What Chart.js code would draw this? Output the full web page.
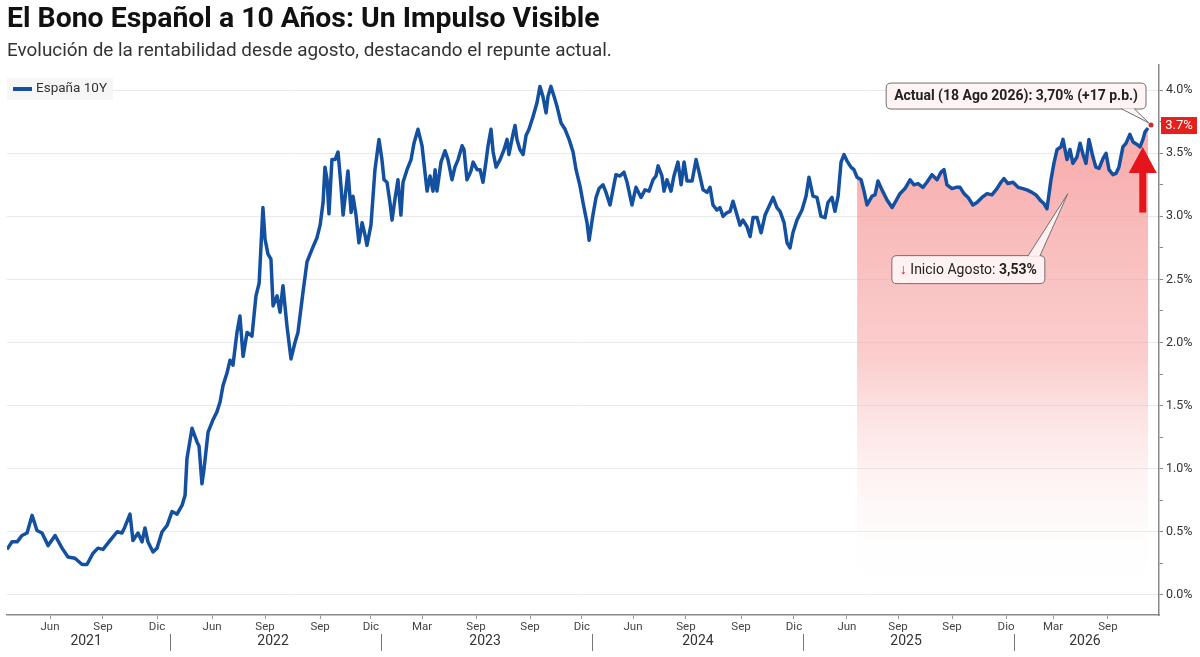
<!DOCTYPE html>
<html lang="es">
<head>
<meta charset="utf-8">
<title>El Bono Español a 10 Años</title>
<script src="https://cdn.jsdelivr.net/npm/chart.js@4.4.1/dist/chart.umd.min.js"></script>
<style>
  html, body { margin: 0; padding: 0; background: #fff; }
  #wrap { width: 1200px; height: 657px; }
</style>
</head>
<body>
<div id="wrap"><canvas id="bonoChart" width="1200" height="657"></canvas></div>
<script>
// fechas en años decimales, rentabilidad en %
const fechas = [
  2021.227, 2021.251, 2021.275, 2021.298, 2021.322, 2021.346, 2021.369, 2021.393, 2021.422, 2021.455,
  2021.488, 2021.516, 2021.549, 2021.583, 2021.606, 2021.635, 2021.658, 2021.682, 2021.715, 2021.749,
  2021.772, 2021.786, 2021.810, 2021.824, 2021.848, 2021.867, 2021.881, 2021.895, 2021.919, 2021.938,
  2021.962, 2021.986, 2022.009, 2022.033, 2022.057, 2022.071, 2022.080, 2022.104, 2022.128, 2022.137,
  2022.151, 2022.161, 2022.180, 2022.204, 2022.222, 2022.237, 2022.251, 2022.270, 2022.284, 2022.298,
  2022.317, 2022.331, 2022.346, 2022.365, 2022.388, 2022.407, 2022.422, 2022.440, 2022.450, 2022.464,
  2022.478, 2022.488, 2022.507, 2022.521, 2022.535, 2022.554, 2022.573, 2022.592, 2022.606, 2022.630,
  2022.649, 2022.673, 2022.696, 2022.711, 2022.725, 2022.734, 2022.744, 2022.753, 2022.767, 2022.782,
  2022.796, 2022.810, 2022.820, 2022.834, 2022.843, 2022.858, 2022.867, 2022.881, 2022.895, 2022.910,
  2022.924, 2022.933, 2022.952, 2022.971, 2022.990, 2023.004, 2023.014, 2023.028, 2023.042, 2023.052,
  2023.066, 2023.080, 2023.094, 2023.104, 2023.123, 2023.142, 2023.156, 2023.175, 2023.194, 2023.208,
  2023.218, 2023.232, 2023.246, 2023.256, 2023.265, 2023.284, 2023.303, 2023.317, 2023.336, 2023.350,
  2023.365, 2023.384, 2023.393, 2023.407, 2023.426, 2023.436, 2023.455, 2023.469, 2023.483, 2023.497,
  2023.507, 2023.521, 2023.531, 2023.545, 2023.564, 2023.583, 2023.597, 2023.606, 2023.625, 2023.635,
  2023.644, 2023.658, 2023.673, 2023.687, 2023.701, 2023.720, 2023.739, 2023.753, 2023.767, 2023.782,
  2023.791, 2023.805, 2023.820, 2023.834, 2023.853, 2023.872, 2023.891, 2023.910, 2023.924, 2023.943,
  2023.957, 2023.976, 2023.986, 2024.004, 2024.019, 2024.033, 2024.052, 2024.066, 2024.085, 2024.099,
  2024.113, 2024.132, 2024.151, 2024.166, 2024.189, 2024.208, 2024.232, 2024.251, 2024.270, 2024.289,
  2024.303, 2024.313, 2024.331, 2024.341, 2024.355, 2024.374, 2024.388, 2024.407, 2024.422, 2024.436,
  2024.450, 2024.474, 2024.493, 2024.507, 2024.526, 2024.545, 2024.559, 2024.573, 2024.592, 2024.606,
  2024.621, 2024.640, 2024.654, 2024.668, 2024.687, 2024.701, 2024.715, 2024.734, 2024.749, 2024.763,
  2024.782, 2024.801, 2024.820, 2024.839, 2024.858, 2024.876, 2024.891, 2024.910, 2024.924, 2024.938,
  2024.952, 2024.971, 2024.995, 2025.014, 2025.028, 2025.047, 2025.066, 2025.085, 2025.104, 2025.118,
  2025.137, 2025.151, 2025.166, 2025.180, 2025.194, 2025.208, 2025.227, 2025.241, 2025.256, 2025.275,
  2025.289, 2025.303, 2025.327, 2025.341, 2025.355, 2025.374, 2025.398, 2025.422, 2025.436, 2025.459,
  2025.483, 2025.507, 2025.526, 2025.545, 2025.568, 2025.587, 2025.611, 2025.635, 2025.654, 2025.668,
  2025.682, 2025.706, 2025.725, 2025.744, 2025.763, 2025.782, 2025.805, 2025.824, 2025.848, 2025.872,
  2025.895, 2025.919, 2025.938, 2025.952, 2025.971, 2025.995, 2026.019, 2026.042, 2026.061, 2026.085,
  2026.104, 2026.123, 2026.142, 2026.156, 2026.175, 2026.189, 2026.204, 2026.222, 2026.232, 2026.251,
  2026.265, 2026.279, 2026.298, 2026.313, 2026.327, 2026.341, 2026.355, 2026.374, 2026.388, 2026.403,
  2026.422, 2026.436, 2026.450, 2026.469, 2026.483, 2026.497, 2026.516, 2026.531, 2026.549, 2026.564,
  2026.583, 2026.597, 2026.611, 2026.621, 2026.635
];
const rentabilidad = [
  0.36, 0.42, 0.42, 0.47, 0.49, 0.63, 0.51, 0.49, 0.39, 0.47,
  0.37, 0.30, 0.29, 0.24, 0.24, 0.33, 0.37, 0.36, 0.43, 0.50,
  0.49, 0.54, 0.64, 0.43, 0.49, 0.42, 0.53, 0.42, 0.34, 0.37,
  0.50, 0.55, 0.66, 0.64, 0.71, 0.79, 1.08, 1.32, 1.21, 1.18,
  0.88, 1.00, 1.29, 1.39, 1.45, 1.53, 1.66, 1.76, 1.86, 1.82,
  2.08, 2.21, 1.89, 2.08, 2.05, 2.37, 2.47, 3.07, 2.82, 2.70,
  2.66, 2.29, 2.37, 2.24, 2.45, 2.13, 1.87, 2.00, 2.08, 2.40,
  2.64, 2.74, 2.83, 2.93, 3.11, 3.39, 3.29, 3.02, 3.45, 3.45,
  3.51, 3.24, 3.01, 3.22, 3.36, 3.03, 3.16, 3.01, 2.79, 2.95,
  2.85, 2.77, 2.93, 3.37, 3.61, 3.45, 3.29, 3.27, 3.11, 2.97,
  3.14, 3.29, 3.01, 3.27, 3.37, 3.45, 3.58, 3.69, 3.56, 3.35,
  3.20, 3.32, 3.20, 3.37, 3.20, 3.43, 3.52, 3.45, 3.29, 3.39,
  3.45, 3.56, 3.53, 3.29, 3.36, 3.43, 3.37, 3.37, 3.27, 3.43,
  3.56, 3.69, 3.51, 3.39, 3.45, 3.53, 3.61, 3.49, 3.65, 3.72,
  3.61, 3.53, 3.49, 3.64, 3.69, 3.79, 3.90, 4.03, 3.95, 3.82,
  3.95, 4.03, 3.95, 3.87, 3.74, 3.69, 3.61, 3.51, 3.37, 3.24,
  3.11, 2.95, 2.81, 3.01, 3.15, 3.22, 3.25, 3.19, 3.09, 3.21,
  3.33, 3.32, 3.35, 3.27, 3.09, 3.23, 3.15, 3.21, 3.20, 3.29,
  3.32, 3.40, 3.32, 3.20, 3.29, 3.20, 3.32, 3.43, 3.25, 3.43,
  3.28, 3.28, 3.45, 3.35, 3.21, 3.19, 3.23, 3.09, 3.05, 3.07,
  3.00, 3.03, 3.04, 3.12, 3.01, 2.93, 2.97, 2.92, 2.84, 2.99,
  2.99, 2.87, 3.01, 3.08, 3.15, 3.07, 3.04, 2.95, 2.79, 2.75,
  2.87, 2.97, 3.05, 3.16, 3.31, 3.16, 3.15, 3.00, 2.99, 3.11,
  3.15, 3.04, 3.16, 3.43, 3.49, 3.44, 3.39, 3.37, 3.31, 3.29,
  3.20, 3.09, 3.16, 3.17, 3.28, 3.21, 3.13, 3.07, 3.11, 3.18,
  3.22, 3.29, 3.25, 3.26, 3.23, 3.27, 3.33, 3.29, 3.35, 3.37,
  3.25, 3.22, 3.23, 3.23, 3.18, 3.15, 3.09, 3.11, 3.15, 3.18,
  3.17, 3.22, 3.27, 3.30, 3.26, 3.27, 3.23, 3.22, 3.21, 3.19,
  3.17, 3.13, 3.10, 3.06, 3.29, 3.42, 3.53, 3.55, 3.61, 3.45,
  3.53, 3.42, 3.47, 3.58, 3.49, 3.42, 3.61, 3.47, 3.39, 3.38,
  3.46, 3.50, 3.37, 3.33, 3.34, 3.39, 3.55, 3.58, 3.65, 3.59,
  3.57, 3.55, 3.61, 3.67, 3.70
];

// eje X: posiciones de las etiquetas de mes y de año
const mesesPos = [
  2021.431, 2021.682, 2021.938, 2022.199, 2022.450, 2022.711, 2022.952,
  2023.194, 2023.450, 2023.706, 2023.952, 2024.194, 2024.445, 2024.706,
  2024.957, 2025.208, 2025.450, 2025.706, 2025.962, 2026.185, 2026.445
];
const mesesEtiquetas = [
  'Jun', 'Sep', 'Dic', 'Jun', 'Sep', 'Sep', 'Dic',
  'Mar', 'Sep', 'Sep', 'Dic', 'Jun', 'Sep', 'Sep',
  'Dic', 'Jun', 'Sep', 'Sep', 'Dio', 'Mar', 'Sep'
];
const anios = ['2021', '2022', '2023', '2024', '2025', '2026'];
const aniosPos = [2021.602, 2022.488, 2023.493, 2024.502, 2025.488, 2026.336];
const limitesAnio = [2022, 2023, 2024, 2025, 2026];

// eje Y (marcas cada 0,25; etiqueta cada 0,5)
const marcasY = [0, 0.25, 0.5, 0.75, 1, 1.25, 1.5, 1.75, 2, 2.25, 2.5, 2.75, 3, 3.25, 3.5, 3.75, 4];

const inicioSombra = 2025.25;
const inicioAgosto = { x: 2026.255, y: 3.18, valor: '3,53%' };
const flecha = { x: 2026.61, desde: 3.03, hasta: 3.55 };

const azul = '#1450a0';
const rojo = '#e4161c';

const puntos = fechas.map((f, i) => ({ x: f, y: rentabilidad[i] }));
const puntosSombra = puntos.filter(p => p.x >= inicioSombra);

function cajaRedonda(ctx, x, y, w, h, r) {
  ctx.beginPath();
  ctx.moveTo(x + r, y);
  ctx.lineTo(x + w - r, y);
  ctx.quadraticCurveTo(x + w, y, x + w, y + r);
  ctx.lineTo(x + w, y + h - r);
  ctx.quadraticCurveTo(x + w, y + h, x + w - r, y + h);
  ctx.lineTo(x + r, y + h);
  ctx.quadraticCurveTo(x, y + h, x, y + h - r);
  ctx.lineTo(x, y + r);
  ctx.quadraticCurveTo(x, y, x + r, y);
  ctx.closePath();
}

// caja con pico hacia un punto
function globo(ctx, bx, by, bw, bh, base1, base2, baseY, tx, ty) {
  ctx.save();
  ctx.fillStyle = 'rgba(255,243,243,0.97)';
  ctx.strokeStyle = '#6f6f6f';
  ctx.lineWidth = 1;
  cajaRedonda(ctx, bx, by, bw, bh, 5);
  ctx.fill();
  ctx.stroke();
  ctx.beginPath();
  ctx.moveTo(base1, baseY);
  ctx.lineTo(tx, ty);
  ctx.lineTo(base2, baseY);
  ctx.closePath();
  ctx.fill();
  ctx.beginPath();
  ctx.moveTo(base1, baseY);
  ctx.lineTo(tx, ty);
  ctx.lineTo(base2, baseY);
  ctx.stroke();
  ctx.restore();
}

const extras = {
  id: 'extras',
  afterDatasetsDraw(chart) {
    const { ctx, scales: { x, y } } = chart;
    const fuente = 'Roboto, "Liberation Sans", sans-serif';

    // años y separadores bajo el eje
    ctx.save();
    ctx.fillStyle = '#333';
    ctx.font = '14px ' + fuente;
    ctx.textAlign = 'center';
    ctx.textBaseline = 'middle';
    anios.forEach((a, i) => ctx.fillText(a, x.getPixelForValue(aniosPos[i]), 641));
    ctx.strokeStyle = '#777';
    ctx.lineWidth = 1;
    limitesAnio.forEach(l => {
      const px = Math.round(x.getPixelForValue(l)) + 0.5;
      ctx.beginPath();
      ctx.moveTo(px, 634);
      ctx.lineTo(px, 651);
      ctx.stroke();
    });
    ctx.restore();

    // leyenda
    const ds = chart.data.datasets[0];
    ctx.save();
    ctx.fillStyle = 'rgba(246,246,246,0.95)';
    ctx.fillRect(7, 78, 106, 22);
    ctx.strokeStyle = ds.borderColor;
    ctx.lineWidth = 4;
    ctx.beginPath();
    ctx.moveTo(13, 89);
    ctx.lineTo(32, 89);
    ctx.stroke();
    ctx.fillStyle = '#333';
    ctx.font = '13.5px ' + fuente;
    ctx.textBaseline = 'middle';
    ctx.fillText(ds.label, 36, 89);
    ctx.restore();

    // flecha roja
    const fx = x.getPixelForValue(flecha.x);
    const yBase = y.getPixelForValue(flecha.desde);
    const yPunta = y.getPixelForValue(flecha.hasta);
    const yCabeza = yPunta + 26;
    ctx.save();
    ctx.fillStyle = rojo;
    ctx.fillRect(fx - 3.5, yCabeza - 1, 7, yBase - yCabeza + 1);
    ctx.beginPath();
    ctx.moveTo(fx - 14, yCabeza);
    ctx.lineTo(fx, yPunta);
    ctx.lineTo(fx + 14, yCabeza);
    ctx.closePath();
    ctx.fill();
    ctx.restore();

    // último punto
    const ultimo = puntos[puntos.length - 1];
    const ux = x.getPixelForValue(ultimo.x) + 3;
    const uy = y.getPixelForValue(ultimo.y) - 3;
    ctx.save();
    ctx.fillStyle = '#c8322e';
    ctx.beginPath();
    ctx.arc(ux, uy, 2.5, 0, Math.PI * 2);
    ctx.fill();
    ctx.restore();

    // globo "Actual"
    ctx.save();
    ctx.font = 'bold 14px ' + fuente;
    const tActual = 'Actual (18 Ago 2026): 3,70% (+17 p.b.)';
    const wA = ctx.measureText(tActual).width + 16;
    const bxA = ux - 5 - wA, byA = uy - 42, bhA = 26;
    globo(ctx, bxA, byA, wA, bhA, ux - 30, ux - 17, byA + bhA - 0.5, ux - 2, uy - 2);
    ctx.fillStyle = '#222';
    ctx.textBaseline = 'middle';
    ctx.textAlign = 'center';
    ctx.fillText(tActual, bxA + wA / 2, byA + bhA / 2 + 0.5);
    ctx.restore();

    // globo "Inicio Agosto"
    ctx.save();
    const ix = x.getPixelForValue(inicioAgosto.x);
    const iy = y.getPixelForValue(inicioAgosto.y);
    ctx.font = '14px ' + fuente;
    const t1 = ' Inicio Agosto: ';
    const w1 = ctx.measureText(t1).width;
    const wFl = ctx.measureText('↓').width;
    ctx.font = 'bold 14px ' + fuente;
    const w2 = ctx.measureText(inicioAgosto.valor).width;
    const wI = wFl + w1 + w2 + 16;
    const bxI = ix - 176, byI = iy + 62, bhI = 28;
    globo(ctx, bxI, byI, wI, bhI, ix - 40, ix - 28, byI + 0.5, ix, iy);
    ctx.textBaseline = 'middle';
    let cx = bxI + 8;
    const cy = byI + bhI / 2 + 0.5;
    ctx.font = '14px ' + fuente;
    ctx.fillStyle = rojo;
    ctx.fillText('↓', cx, cy);
    cx += wFl;
    ctx.fillStyle = '#222';
    ctx.fillText(t1, cx, cy);
    cx += w1;
    ctx.font = 'bold 14px ' + fuente;
    ctx.fillText(inicioAgosto.valor, cx, cy);
    ctx.restore();

    // etiqueta roja en el eje
    ctx.save();
    const ey = y.getPixelForValue(ultimo.y) - 3;
    ctx.fillStyle = '#e3201b';
    ctx.fillRect(y.left + 2, ey - 8, 36, 17);
    ctx.fillStyle = '#fff';
    ctx.font = '13px ' + fuente;
    ctx.textBaseline = 'middle';
    ctx.textAlign = 'center';
    ctx.fillText(ultimo.y.toFixed(1) + '%', y.left + 20, ey + 0.5);
    ctx.restore();
  }
};

const ctx = document.getElementById('bonoChart').getContext('2d');

new Chart(ctx, {
  type: 'line',
  data: {
    datasets: [
      {
        label: 'España 10Y',
        data: puntos,
        borderColor: azul,
        borderWidth: 3.5,
        borderJoinStyle: 'round',
        pointRadius: 0,
        tension: 0,
        fill: false,
      },
      {
        label: 'sombra',
        data: puntosSombra,
        borderWidth: 0,
        pointRadius: 0,
        tension: 0,
        fill: 'origin',
        backgroundColor: (c) => {
          const { chart } = c;
          if (!chart.chartArea) return 'rgba(248,170,170,0.6)';
          const yS = chart.scales.y;
          const g = chart.ctx.createLinearGradient(0, yS.getPixelForValue(3.4), 0, yS.getPixelForValue(0));
          g.addColorStop(0, 'rgba(246,150,150,0.75)');
          g.addColorStop(0.45, 'rgba(248,170,170,0.58)');
          g.addColorStop(1, 'rgba(255,255,255,0)');
          return g;
        },
      },
    ],
  },
  options: {
    responsive: false,
    animation: false,
    devicePixelRatio: 1,
    layout: { padding: { left: 7, right: 0, top: 0, bottom: 0 } },
    plugins: {
      legend: { display: false },
      tooltip: { enabled: false },
      title: {
        display: true,
        text: 'El Bono Español a 10 Años: Un Impulso Visible',
        align: 'start',
        color: '#111',
        font: { family: 'Roboto', size: 28.4, weight: 'bold' },
        padding: { top: 3, bottom: 3 },
      },
      subtitle: {
        display: true,
        text: 'Evolución de la rentabilidad desde agosto, destacando el repunte actual.',
        align: 'start',
        color: '#333',
        font: { family: 'Roboto', size: 18.9 },
        padding: { top: 0, bottom: 2.2 },
      },
    },
    scales: {
      x: {
        type: 'linear',
        min: 2021.227,
        max: 2026.687,
        afterBuildTicks: (s) => { s.ticks = mesesPos.map(v => ({ value: v })); },
        afterFit: (s) => { s.height = 42; },
        ticks: {
          autoSkip: false,
          maxRotation: 0,
          padding: 1,
          color: '#444',
          font: { family: 'Roboto', size: 11.5 },
          callback: (v, i) => mesesEtiquetas[i],
        },
        grid: { drawOnChartArea: false, tickLength: 4, color: '#999' },
        border: { color: '#8a8a8a', width: 1.5 },
      },
      y: {
        position: 'right',
        min: -0.16,
        max: 4.2,
        afterBuildTicks: (s) => { s.ticks = marcasY.map(v => ({ value: v })); },
        afterFit: (s) => { s.width = 41; },
        ticks: {
          padding: 3,
          color: '#333',
          font: { family: 'Roboto', size: 12.5 },
          callback: (v) => (Math.round(v * 100) % 50 === 0 ? v.toFixed(1) + '%' : ''),
        },
        grid: {
          tickLength: 4,
          tickColor: '#888',
          color: (c) => (c.tick && Math.round(c.tick.value * 100) % 50 === 0 ? '#e9e9e9' : 'rgba(0,0,0,0)'),
        },
        border: { color: '#8a8a8a', width: 1.5 },
      },
    },
  },
  plugins: [extras],
});
</script>
</body>
</html>
